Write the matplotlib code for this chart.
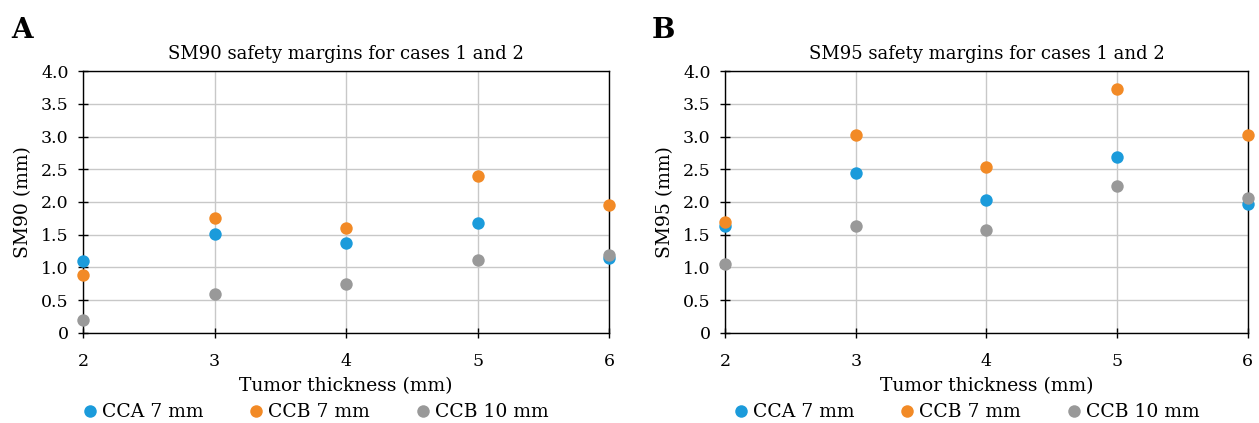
import matplotlib
matplotlib.use('Agg')
import matplotlib.pyplot as plt
from matplotlib.lines import Line2D
from matplotlib.ticker import FuncFormatter

plt.rcParams['font.family'] = ['DejaVu Serif']

# data
thickness = [2, 3, 4, 5, 6]
series_names = ['CCA 7 mm', 'CCB 7 mm', 'CCB 10 mm']
colors = ['#1b9bdb', '#f28a26', '#999999']

sm90_cca7 = [1.10, 1.51, 1.37, 1.68, 1.15]
sm90_ccb7 = [0.88, 1.76, 1.60, 2.40, 1.96]
sm90_ccb10 = [0.20, 0.60, 0.74, 1.11, 1.19]

sm95_cca7 = [1.63, 2.44, 2.03, 2.68, 1.97]
sm95_ccb7 = [1.70, 3.02, 2.54, 3.73, 3.02]
sm95_ccb10 = [1.05, 1.63, 1.57, 2.24, 2.06]

y_ticks = [0, 0.5, 1.0, 1.5, 2.0, 2.5, 3.0, 3.5, 4.0]


def ytick_fmt(v, pos):
    # zero shown as plain "0", the rest with one decimal
    return '0' if abs(v) < 1e-9 else '{:.1f}'.format(v)


def draw_panel(ax, data, title, ylab, leg_x):
    for vals, clr in zip(data, colors):
        ax.scatter(thickness, vals, s=80, color=clr, zorder=3, clip_on=False, linewidths=0)
    ax.set_xlim(2, 6)
    ax.set_ylim(0, 4.0)
    ax.set_xticks(thickness)
    ax.set_yticks(y_ticks)
    ax.yaxis.set_major_formatter(FuncFormatter(ytick_fmt))
    ax.grid(True, color='#c8c8c8', linewidth=1.0, zorder=0)
    ax.set_axisbelow(True)
    for sp in ax.spines.values():
        sp.set_color('black')
        sp.set_linewidth(1.0)
    ax.tick_params(axis='both', direction='inout', length=7, width=1.0, labelsize=12.5, colors='black')
    ax.tick_params(axis='x', pad=11)
    ax.tick_params(axis='y', pad=7)
    ax.set_title(title, fontsize=13, pad=9)
    ax.set_xlabel('Tumor thickness (mm)', fontsize=13.5, labelpad=5)
    ax.set_ylabel(ylab, fontsize=13.5)
    ax.yaxis.set_label_coords(-0.097, 0.5)

    handles = [Line2D([], [], marker='o', linestyle='none', markersize=9, color=c, markeredgewidth=0)
               for c in colors]
    ax.legend(handles, series_names, loc='upper center', bbox_to_anchor=(leg_x, -0.24), ncol=3,
              frameon=False, fontsize=13.5, handletextpad=0.15, columnspacing=2.3,
              handlelength=1.0, borderaxespad=0)


fig = plt.figure(figsize=(12.59, 4.23), dpi=100)
axA = fig.add_axes([0.066, 0.213, 0.418, 0.619])
axB = fig.add_axes([0.576, 0.213, 0.415, 0.619])

draw_panel(axA, [sm90_cca7, sm90_ccb7, sm90_ccb10], 'SM90 safety margins for cases 1 and 2', 'SM90 (mm)', 0.44)
draw_panel(axB, [sm95_cca7, sm95_ccb7, sm95_ccb10], 'SM95 safety margins for cases 1 and 2', 'SM95 (mm)', 0.46)

fig.text(0.009, 0.91, 'A', fontsize=20, fontweight='bold')
fig.text(0.518, 0.91, 'B', fontsize=20, fontweight='bold')

fig.savefig('out.png', dpi=100)
